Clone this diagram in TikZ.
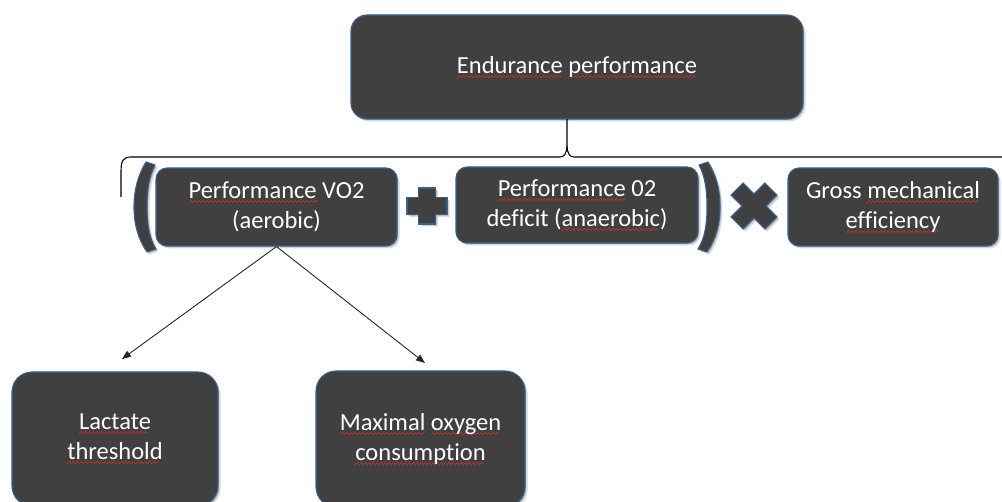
\documentclass[tikz,border=0pt]{standalone}
\usepackage{fontspec}
\setmainfont[Ligatures=NoCommon]{Carlito}
\usetikzlibrary{arrows.meta,shadows}

\definecolor{boxfill}{HTML}{404040}
\definecolor{boxline}{HTML}{3A5F8F}
\definecolor{squig}{HTML}{E02828}

% red wavy underline for single words, built from small stepped rules
\newcommand\wavebit{\hbox{{\color{squig}%
  \raise0pt\hbox{\rule{1pt}{1pt}}\raise1pt\hbox{\rule{1pt}{1pt}}%
  \raise2pt\hbox{\rule{1pt}{1pt}}\raise1pt\hbox{\rule{1pt}{1pt}}}}}
\newcommand\spl[1]{\setbox0\hbox{#1}%
  \rlap{\lower4.5pt\hbox to\wd0{\leaders\wavebit\hfill}}\box0\relax}

\tikzset{
  softshadow/.style={
    drop shadow={shadow xshift=2.5pt,shadow yshift=-2.5pt,opacity=.15,fill=black},
    drop shadow={shadow xshift=1.2pt,shadow yshift=-1.2pt,opacity=.2,fill=black}},
  card/.style={draw=boxline, line width=1.1pt, fill=boxfill, rounded corners=#1,
    text=white, align=center, font=\fontsize{24.5}{30}\selectfont, inner sep=0pt, softshadow},
  card/.default=12pt,
  sym/.style={draw=boxline, line width=1.1pt, fill=boxfill, softshadow},
  link/.style={draw=black!85, line width=0.9pt, -{Triangle[length=9pt,width=7pt]}},
  bracket/.style={draw=black, line width=1.1pt},
}

\begin{document}
\begin{tikzpicture}[x=1pt,y=-1pt]
\useasboundingbox (0,0) rectangle (1002,502);

% top box
\node[card=16pt, minimum width=452pt, minimum height=104pt] (endur) at (577,67)
  {\spl{Endurance} \spl{performance}};

% horizontal brace under the top box, its tip touching the box
\coordinate (cusp) at (567,119);
\draw[bracket] (121,197) -- (121,172) .. controls (121,161) and (123,157) .. (131,157)
  -- (560,157) .. controls (564,157) and (566.5,154) .. (567,146) -- (cusp);
\draw[bracket] (567,146) .. controls (567.5,154) and (570,157) .. (574,157) -- (1010,157);

% second row
\node[card=11pt, minimum width=241pt, minimum height=78pt] (vo2) at (276.5,207)
  {\spl{Performance} VO2\\(aerobic)};
\node[card=11pt, minimum width=242pt, minimum height=76pt] (deficit) at (577,205)
  {\spl{Performance} 02\\deficit (\spl{anaerobic})};
\node[card=11pt, minimum width=210pt, minimum height=78pt] (gross) at (893,207)
  {Gross \spl{mechanical}\\\spl{efficiency}};

% parentheses
\path[sym] (146,162) .. controls (138,175) and (134,190) .. (134,207)
  .. controls (134,224) and (138,239) .. (147,252) -- (156,249)
  .. controls (149,238) and (147,224) .. (147,207)
  .. controls (147,190) and (149,176) .. (155,165) -- cycle;
\path[sym] (708,162) .. controls (716,175) and (720,190) .. (720,207)
  .. controls (720,224) and (716,239) .. (707,252) -- (698,249)
  .. controls (705,238) and (707,224) .. (707,207)
  .. controls (707,190) and (705,176) .. (699,165) -- cycle;

% plus sign
\path[sym] (418.5,188) -- (435.5,188) -- (435.5,197.5) -- (447,197.5) -- (447,214.5)
  -- (435.5,214.5) -- (435.5,224) -- (418.5,224) -- (418.5,214.5) -- (407,214.5)
  -- (407,197.5) -- (418.5,197.5) -- cycle;

% multiplication sign
\begin{scope}[shift={(754,206)}, rotate=45]
\path[sym] (-8.5,-24) -- (8.5,-24) -- (8.5,-8.5) -- (24,-8.5) -- (24,8.5) -- (8.5,8.5)
  -- (8.5,24) -- (-8.5,24) -- (-8.5,8.5) -- (-24,8.5) -- (-24,-8.5) -- (-8.5,-8.5) -- cycle;
\end{scope}

% bottom row
\node[card=20pt, minimum width=206pt, minimum height=134pt] (lactate) at (115,439)
  {\spl{Lactate}\\\spl{threshold}};
\node[card=20pt, minimum width=209pt, minimum height=136pt] (vomax) at (420.5,439)
  {\spl{Maximal} \spl{oxygen}\\\spl{consumption}};

% arrows
\coordinate (lacend) at (122,359);
\coordinate (maxend) at (425,363);
\draw[link] (vo2.south) -- (lacend);
\draw[link] (vo2.south) -- (maxend);
\end{tikzpicture}
\end{document}
